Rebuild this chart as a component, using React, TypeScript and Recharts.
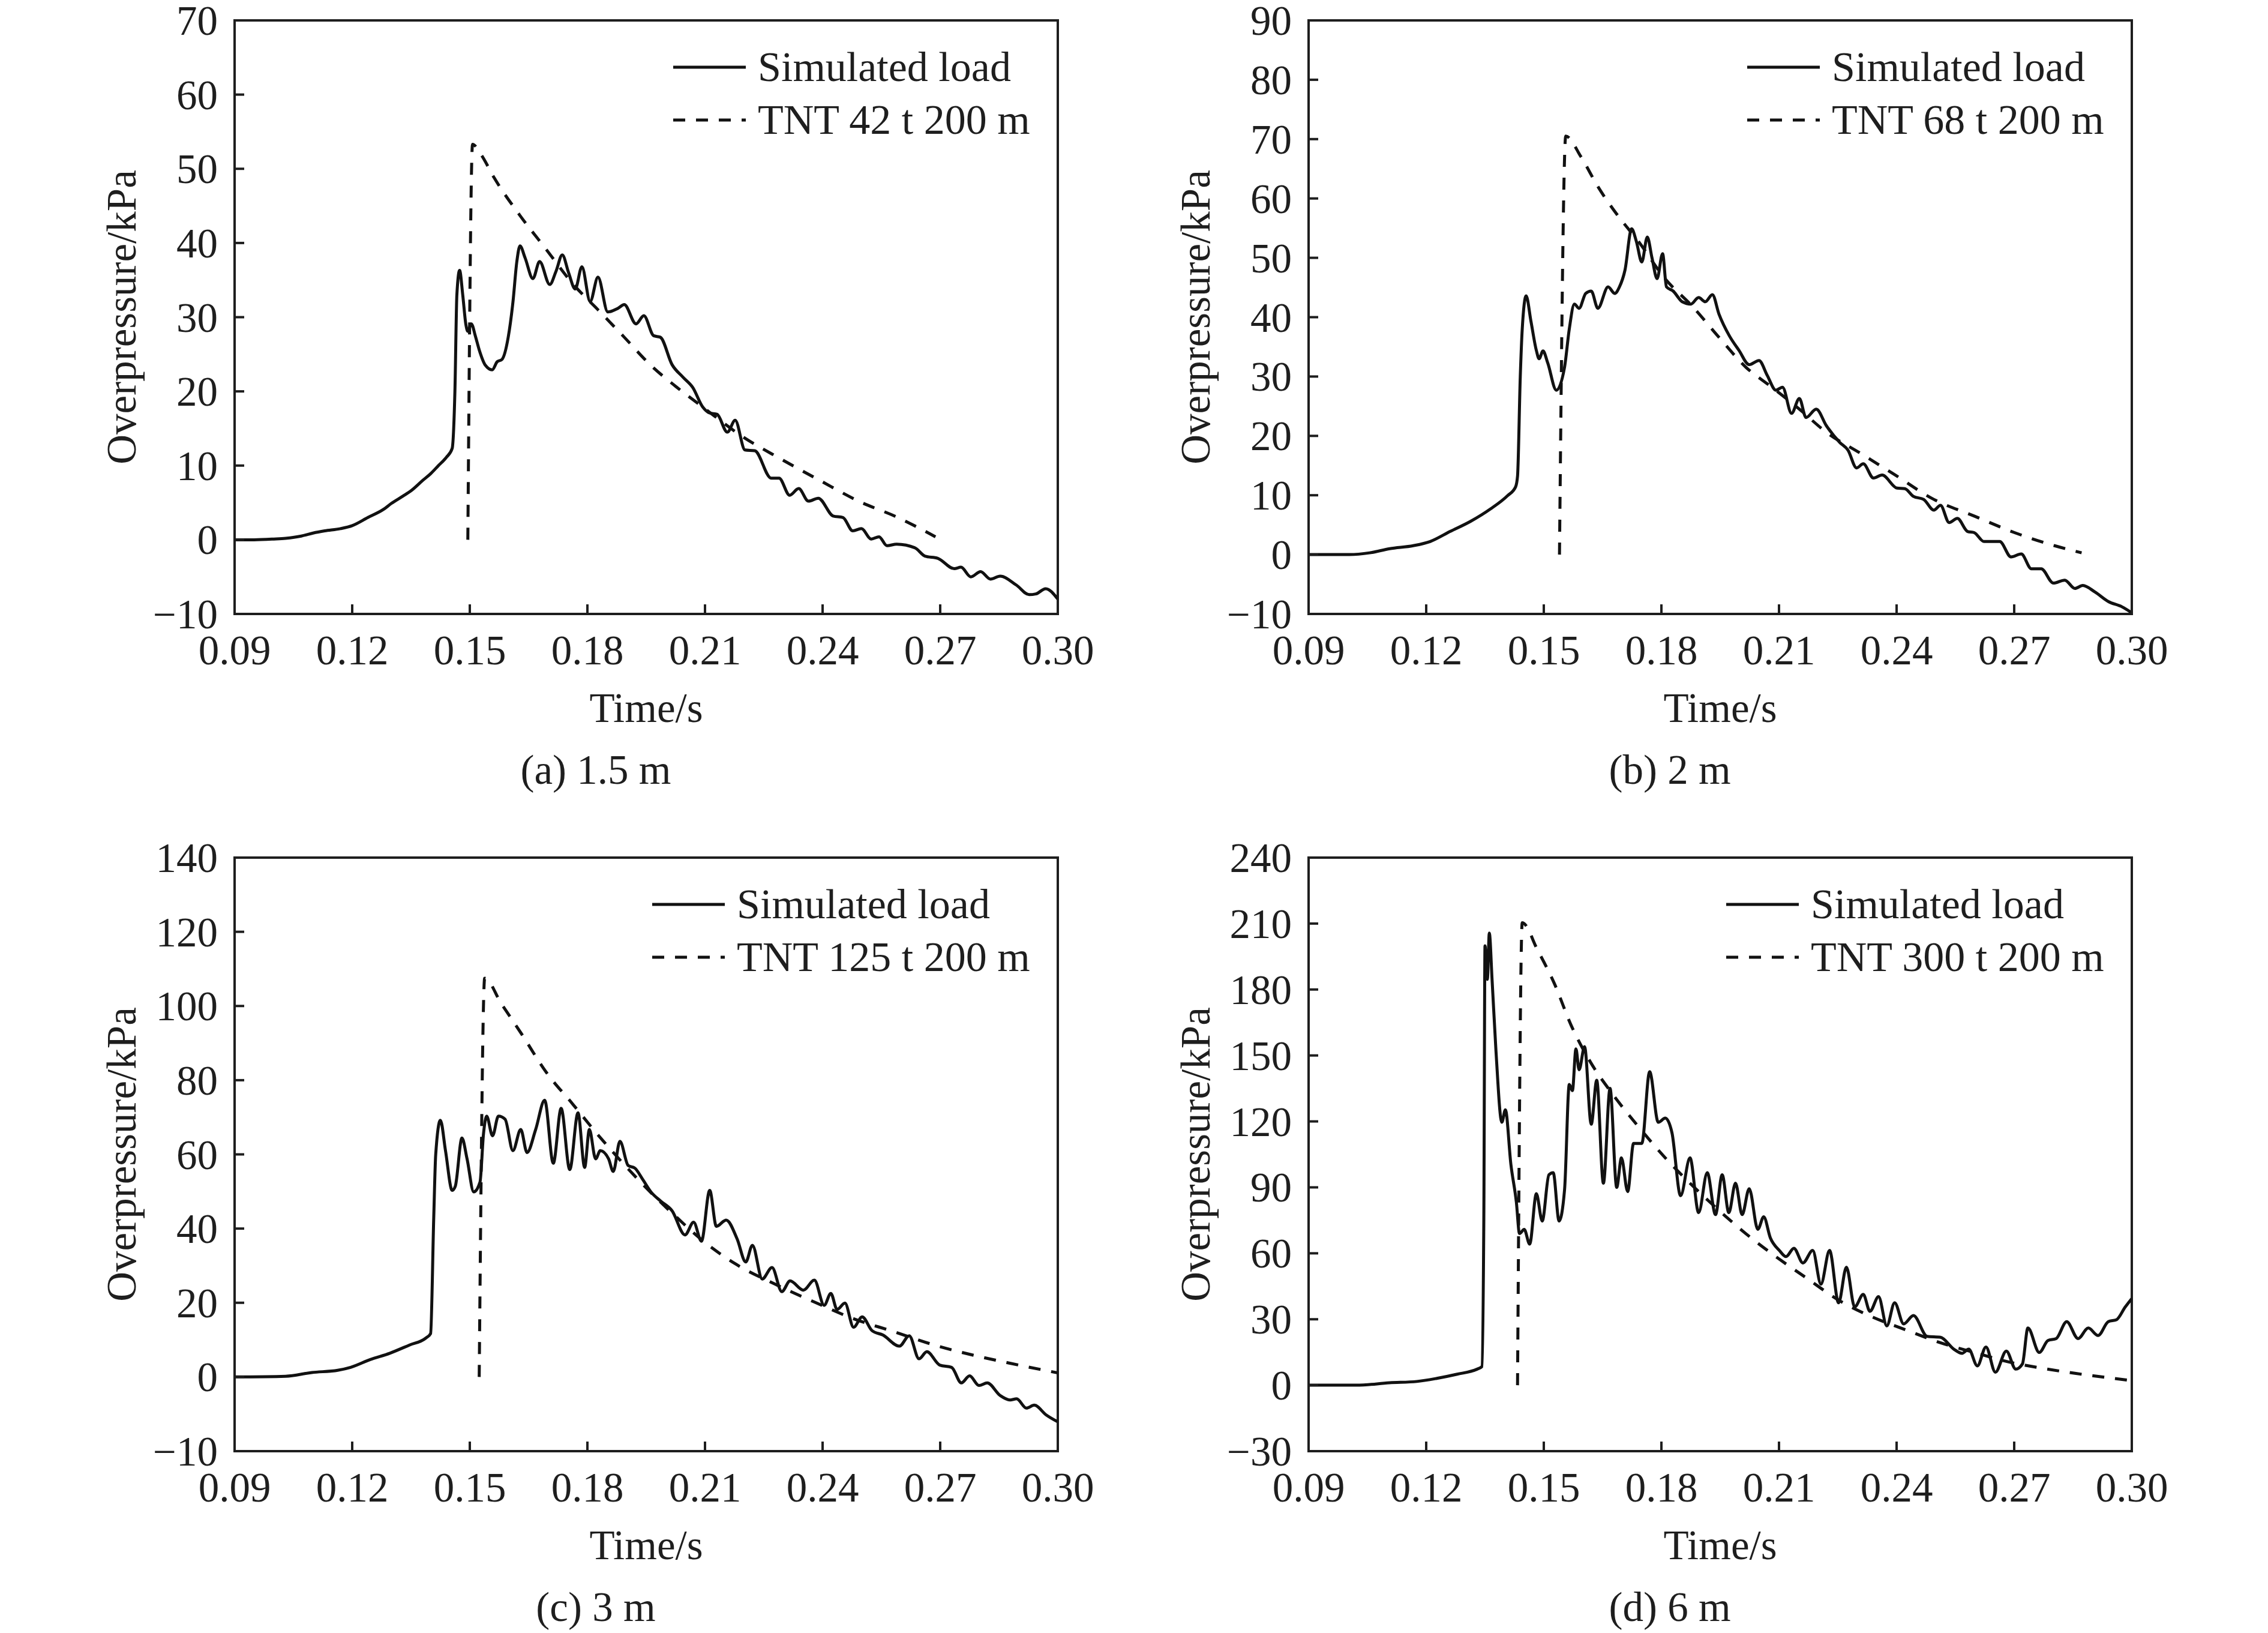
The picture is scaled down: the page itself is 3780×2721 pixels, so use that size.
import { LineChart, Line, XAxis, YAxis, Legend, ReferenceArea } from "recharts"

type Pt = [number, number]

// time axis shared by all four panels
const xTicks = [0.09, 0.12, 0.15, 0.18, 0.21, 0.24, 0.27, 0.3]
const xTickLabels = ["0.09", "0.12", "0.15", "0.18", "0.21", "0.24", "0.27", "0.30"]

// (a) 1.5 m
const simA: Pt[] = [
  [0.09, 0], [0.095, 0], [0.1, 0.1], [0.103, 0.2], [0.107, 0.5], [0.11, 0.9], [0.113, 1.2], [0.117, 1.5],
  [0.12, 1.9], [0.124, 3.0], [0.128, 4.1], [0.13, 4.9], [0.133, 5.9], [0.135, 6.6], [0.138, 8.0], [0.14, 8.9],
  [0.142, 10.0], [0.144, 11.1], [0.1455, 12.3], [0.1462, 20], [0.1467, 33], [0.1474, 36.3], [0.1482, 33],
  [0.149, 29], [0.1495, 28.1], [0.1504, 29.1], [0.1514, 27.5], [0.1524, 25.6], [0.154, 23.5], [0.1557, 22.9],
  [0.157, 24], [0.1582, 24.3], [0.1598, 27.3], [0.161, 32], [0.162, 37.5], [0.1628, 39.6], [0.1641, 38.0],
  [0.1661, 35.2], [0.1678, 37.5], [0.1704, 34.4], [0.172, 36.2], [0.1736, 38.4], [0.1752, 36], [0.1769, 33.8],
  [0.1786, 36.8], [0.1807, 32.1], [0.1827, 35.4], [0.1852, 30.7], [0.1878, 31.2], [0.1894, 31.7], [0.1924, 29.1],
  [0.1944, 30.2], [0.1969, 27.5], [0.1986, 27.3], [0.2016, 23.6], [0.2044, 21.9], [0.2069, 20.5], [0.2094, 17.9],
  [0.2111, 17.1], [0.2131, 16.9], [0.2157, 14.5], [0.2177, 16.1], [0.2202, 12.1], [0.2227, 12.0], [0.2269, 8.3],
  [0.2289, 8.3], [0.2316, 6.0], [0.2339, 6.9], [0.2364, 5.2], [0.2389, 5.6], [0.2427, 3.2], [0.2452, 3.0],
  [0.2477, 1.2], [0.2499, 1.5], [0.2524, 0.1], [0.2544, 0.4], [0.2564, -0.8], [0.2589, -0.6], [0.2636, -1.1],
  [0.2661, -2.2], [0.2694, -2.5], [0.2736, -3.9], [0.2753, -3.7], [0.2778, -5.0], [0.2803, -4.3], [0.2828, -5.3],
  [0.2853, -4.9], [0.2894, -6.1], [0.2927, -7.4], [0.2944, -7.3], [0.2969, -6.6], [0.3, -8.0],
]
const tntA: Pt[] = [
  [0.1495, 0], [0.1507, 53.3], [0.1529, 51.9], [0.1562, 48.8], [0.1628, 43.7], [0.1694, 39.2], [0.1761, 34.6],
  [0.1827, 31.0], [0.1894, 27.3], [0.196, 23.6], [0.2027, 20.6], [0.2094, 17.9], [0.2193, 14.0], [0.2293, 10.9],
  [0.2393, 8.0], [0.2492, 5.2], [0.2592, 3.0], [0.2688, 0.4],
]
const yTicksA = [-10, 0, 10, 20, 30, 40, 50, 60, 70]
const yLabelsA = ["\u221210", "0", "10", "20", "30", "40", "50", "60", "70"]

// (b) 2 m
const simB: Pt[] = [
  [0.09, 0], [0.1004, 0], [0.1056, 0.3], [0.1107, 1.0], [0.1167, 1.5], [0.121, 2.2], [0.1261, 3.9], [0.1313, 5.6],
  [0.1364, 7.7], [0.1407, 9.9], [0.1428, 11.4], [0.1433, 13.2], [0.144, 30], [0.1445, 38], [0.1455, 43.6],
  [0.1467, 39.4], [0.1481, 34.4], [0.1488, 33], [0.1498, 34.3], [0.151, 32.3], [0.1532, 27.7], [0.1553, 31.6],
  [0.1565, 38], [0.1578, 42.2], [0.159, 41.5], [0.1607, 44], [0.1621, 44.4], [0.1638, 41.5], [0.1664, 45.1],
  [0.1681, 44], [0.1693, 45.1], [0.1707, 47.9], [0.1724, 54.9], [0.1736, 52.8], [0.175, 49.3], [0.1764, 53.5],
  [0.1776, 50.0], [0.1789, 46.5], [0.1803, 50.7], [0.1813, 45.1], [0.183, 44.4], [0.1853, 42.6], [0.1875, 42.2],
  [0.1895, 43.3], [0.1912, 42.6], [0.193, 43.8], [0.1947, 40.5], [0.1973, 36.9], [0.1998, 34.4], [0.2024, 32.0],
  [0.2049, 32.7], [0.207, 30.2], [0.2092, 27.7], [0.2109, 28.2], [0.2132, 23.8], [0.2152, 26.3], [0.2169, 23.1],
  [0.2195, 24.5], [0.2221, 21.7], [0.2255, 18.9], [0.2276, 17.6], [0.2298, 14.6], [0.2315, 15.3], [0.2341, 12.9],
  [0.2363, 13.4], [0.2401, 11.2], [0.2421, 11.1], [0.2443, 9.8], [0.2469, 9.3], [0.2495, 7.5], [0.2512, 8.3],
  [0.2534, 5.4], [0.2555, 6.1], [0.2581, 3.9], [0.2598, 3.7], [0.2623, 2.2], [0.2663, 2.2], [0.2692, -0.4],
  [0.2718, 0.1], [0.2744, -2.4], [0.2769, -2.4], [0.28, -4.8], [0.2829, -4.3], [0.2855, -5.7], [0.2875, -5.2],
  [0.2906, -6.3], [0.294, -7.9], [0.2975, -8.8], [0.3, -9.8],
]
const tntB: Pt[] = [
  [0.154, 0], [0.1556, 70.5], [0.1595, 67], [0.1638, 62], [0.1689, 57.1], [0.1741, 52.8], [0.1809, 46.5],
  [0.1878, 41.9], [0.1947, 36.6], [0.2015, 31.6], [0.2084, 28.1], [0.2152, 24.5], [0.2221, 20.6], [0.2307, 17.1],
  [0.2392, 13.6], [0.2495, 9.3], [0.2598, 6.5], [0.2701, 3.7], [0.2803, 1.5], [0.2872, 0.3],
]
const yTicksB = [-10, 0, 10, 20, 30, 40, 50, 60, 70, 80, 90]
const yLabelsB = ["\u221210", "0", "10", "20", "30", "40", "50", "60", "70", "80", "90"]

// (c) 3 m
const simC: Pt[] = [
  [0.09, 0], [0.103, 0.2], [0.1097, 1.2], [0.1163, 1.8], [0.1196, 2.6], [0.1246, 4.7], [0.1296, 6.4], [0.1346, 8.6],
  [0.1388, 10.5], [0.14, 11.7], [0.1408, 42.9], [0.1413, 59.9], [0.1425, 69.2], [0.1438, 61], [0.1455, 50.3],
  [0.1463, 51.4], [0.148, 64.4], [0.1493, 58.8], [0.151, 49.9], [0.1526, 52.5], [0.1535, 65.6], [0.1543, 70.3],
  [0.1558, 65], [0.1573, 70.3], [0.159, 69.5], [0.161, 61], [0.163, 66.7], [0.1646, 60.5], [0.1668, 66.7],
  [0.1691, 74.6], [0.1713, 57.6], [0.1733, 72.4], [0.1755, 55.9], [0.1776, 71.2], [0.1793, 56.5], [0.1805, 66.7],
  [0.1821, 58.8], [0.1833, 61], [0.1854, 58.8], [0.1866, 55.4], [0.1883, 63.5], [0.1904, 57], [0.1921, 56.3],
  [0.1942, 53.1], [0.1962, 49.9], [0.1987, 47.4], [0.2016, 44.8], [0.2049, 38.3], [0.2071, 41.7], [0.2091, 36.6],
  [0.2112, 50.3], [0.2129, 40.6], [0.2154, 42.3], [0.2182, 37.2], [0.2204, 31], [0.2221, 35.5], [0.2246, 26.4],
  [0.2271, 29.5], [0.2296, 23], [0.2317, 25.9], [0.2351, 23.4], [0.2379, 26.1], [0.2404, 19.3], [0.2421, 22.5],
  [0.2437, 18.2], [0.2457, 19.9], [0.2479, 13.4], [0.2501, 16.2], [0.2526, 12.5], [0.2554, 11.3], [0.2596, 8.3],
  [0.2621, 11.1], [0.2646, 4.9], [0.2666, 6.8], [0.2699, 3.2], [0.2729, 2.6], [0.2754, -1.6], [0.2775, 0.3],
  [0.2799, -2.3], [0.282, -1.6], [0.2853, -5], [0.2878, -6.2], [0.2895, -5.9], [0.292, -8.4], [0.294, -7.6],
  [0.297, -10.2], [0.3, -12.1],
]
const tntC: Pt[] = [
  [0.1524, 0], [0.1538, 107.5], [0.158, 100.7], [0.163, 92.8], [0.1696, 82], [0.1763, 73.5], [0.1829, 65],
  [0.1896, 57], [0.1962, 49.7], [0.2029, 42.9], [0.2096, 36.6], [0.2179, 30.4], [0.2279, 25], [0.2379, 20.2],
  [0.2479, 15.7], [0.2579, 12.3], [0.2679, 8.8], [0.2779, 6], [0.2878, 3.7], [0.3, 1.1],
]
// bottom tick of (c) sits one full step (20) below zero but is printed as −10 in the figure
const yTicksC = [-20, 0, 20, 40, 60, 80, 100, 120, 140]
const yLabelsC = ["\u221210", "0", "20", "40", "60", "80", "100", "120", "140"]

// (d) 6 m
const simD: Pt[] = [
  [0.09, 0], [0.1022, 0], [0.1107, 1.1], [0.1176, 1.7], [0.1227, 3.1], [0.1279, 5], [0.133, 7.3], [0.1342, 8.4],
  [0.1347, 75.7], [0.135, 199.9], [0.1356, 184.6], [0.1361, 205.7], [0.1368, 184.6], [0.1378, 152], [0.1393, 119.6],
  [0.1402, 125.3], [0.1416, 100.5], [0.143, 83.3], [0.1438, 69], [0.145, 70.9], [0.1464, 64.2], [0.1481, 87.1],
  [0.1496, 74.7], [0.1513, 95.7], [0.1524, 96.7], [0.1539, 74.7], [0.1553, 89], [0.1565, 136.8], [0.1573, 134],
  [0.1582, 153], [0.159, 143.5], [0.1604, 154], [0.1621, 118.7], [0.1635, 138.7], [0.1652, 91.9], [0.1669, 135],
  [0.1686, 90], [0.1698, 103.4], [0.1714, 88.1], [0.1729, 110], [0.175, 110], [0.177, 142.6], [0.1792, 119.6],
  [0.181, 121.5], [0.1827, 114.8], [0.1849, 86.2], [0.1873, 103.4], [0.1895, 78.5], [0.1917, 96.7], [0.1938, 77.6],
  [0.1955, 95.7], [0.1972, 78.5], [0.1989, 91.9], [0.2006, 77.6], [0.2024, 89.4], [0.2046, 70.9], [0.2061, 76.6],
  [0.2078, 67], [0.2101, 61.3], [0.2118, 58.5], [0.2138, 62.3], [0.2161, 55.6], [0.2186, 61.3], [0.2207, 46],
  [0.2229, 61.3], [0.2252, 37.5], [0.2272, 53.7], [0.2293, 35.6], [0.2315, 41.3], [0.2332, 33.6], [0.2354, 40.3],
  [0.2375, 27], [0.2395, 37.5], [0.2418, 27.9], [0.2443, 31.7], [0.2478, 22.2], [0.2512, 21.8], [0.2546, 16.4],
  [0.2567, 14.5], [0.2584, 16.4], [0.2606, 8.8], [0.2628, 17.4], [0.2652, 5.9], [0.268, 15.5], [0.2704, 7.3],
  [0.2721, 9.7], [0.2735, 26], [0.2764, 14.9], [0.2786, 20.3], [0.2807, 21.2], [0.2834, 28.9], [0.2863, 21.2],
  [0.2889, 26], [0.2914, 22.6], [0.294, 28.9], [0.2961, 29.8], [0.2983, 35.5], [0.3, 39.4],
]
const tntD: Pt[] = [
  [0.1433, 0], [0.1445, 210.4], [0.1484, 198], [0.1527, 182.7], [0.157, 163.6], [0.1621, 146.4], [0.1673, 133],
  [0.1741, 117.7], [0.181, 103.4], [0.1878, 91], [0.1947, 79.5], [0.2015, 69], [0.2084, 59.5], [0.2169, 48.9],
  [0.2255, 38.4], [0.2341, 30.8], [0.2426, 25], [0.2512, 19.3], [0.2598, 14.9], [0.2683, 10.7], [0.2769, 7.8],
  [0.2855, 5.4], [0.294, 3.4], [0.3, 2.1],
]
const yTicksD = [-30, 0, 30, 60, 90, 120, 150, 180, 210, 240]
const yLabelsD = ["\u221230", "0", "30", "60", "90", "120", "150", "180", "210", "240"]

const simName = "Simulated load"
const tntNames = ["TNT 42 t 200 m", "TNT 68 t 200 m", "TNT 125 t 200 m", "TNT 300 t 200 m"]
const captions = ["(a) 1.5 m", "(b) 2 m", "(c) 3 m", "(d) 6 m"]

const FONT = '"Liberation Serif", "Times New Roman", Times, serif'
const INK = "#1e1e1e"
const LINE_INK = "#111"
const FS = 69
const LEGEND_FS = 70
const DASH = "20 18"

// layout of one panel (px, relative to the panel's own box); the headroom above
// the plot keeps the top tick label inside the panel's svg
const CHART_W = 1880
const CHART_H = 1360
const PLOT_L = 391
const PLOT_T = 70
const PLOT_W = 1372
const PLOT_H = 989
const Y_AXIS_W = 378
const X_AXIS_H = 180

interface PanelProps {
  left: number
  top: number
  sim: Pt[]
  tnt: Pt[]
  tntName: string
  yTicks: number[]
  yLabels: string[]
  caption: string
  legendTextOffset: number
}

const Panel = ({ left, top, sim, tnt, tntName, yTicks, yLabels, caption, legendTextOffset }: PanelProps) => {
  const simData = sim.map(([t, p]) => ({ t, p }))
  const tntData = tnt.map(([t, p]) => ({ t, p }))
  const yMin = yTicks[0]
  const yMax = yTicks[yTicks.length - 1]

  const xTick = (props: any) => {
    const { x, y, payload } = props
    const i = xTicks.indexOf(payload.value)
    return (
      <g>
        <line x1={x} x2={x} y1={y} y2={y - 16} stroke={INK} strokeWidth={4} />
        <text x={x} y={y + 84} textAnchor="middle" fill={INK} fontSize={FS} fontFamily={FONT}>
          {i >= 0 ? xTickLabels[i] : Number(payload.value).toFixed(2)}
        </text>
      </g>
    )
  }

  const yTick = (props: any) => {
    const { x, y, payload } = props
    const i = yTicks.indexOf(payload.value)
    return (
      <g>
        <line x1={x} x2={x + 16} y1={y} y2={y} stroke={INK} strokeWidth={4} />
        <text x={x - 28} y={y + 24} textAnchor="end" fill={INK} fontSize={FS} fontFamily={FONT}>
          {i >= 0 ? yLabels[i] : String(payload.value)}
        </text>
      </g>
    )
  }

  const legendRow = (label: string, dash?: string) => (
    <div style={{ display: "flex", alignItems: "center", height: 88 }}>
      <svg width={121} height={10} style={{ display: "block" }}>
        <line x1={0} x2={121} y1={5} y2={5} stroke={LINE_INK} strokeWidth={5} strokeDasharray={dash} />
      </svg>
      <span style={{ marginLeft: 20, fontSize: LEGEND_FS, lineHeight: "88px", fontFamily: FONT, color: INK, whiteSpace: "nowrap" }}>
        {label}
      </span>
    </div>
  )

  return (
    <div style={{ position: "absolute", left, top, width: CHART_W, height: CHART_H }}>
      <LineChart
        width={CHART_W}
        height={CHART_H}
        style={{ overflow: "visible" }}
        margin={{
          top: PLOT_T,
          right: CHART_W - PLOT_L - PLOT_W,
          left: PLOT_L - Y_AXIS_W,
          bottom: CHART_H - PLOT_T - PLOT_H - X_AXIS_H,
        }}
      >
        <XAxis
          type="number"
          dataKey="t"
          domain={[0.09, 0.3]}
          ticks={xTicks}
          interval={0}
          allowDataOverflow
          axisLine={false}
          tickLine={false}
          tickSize={0}
          tickMargin={0}
          height={X_AXIS_H}
          tick={xTick}
          label={{ value: "Time/s", position: "insideBottom", offset: 0, style: { fontSize: FS, fontFamily: FONT, fill: INK } }}
        />
        <YAxis
          type="number"
          domain={[yMin, yMax]}
          ticks={yTicks}
          interval={0}
          allowDataOverflow
          axisLine={false}
          tickLine={false}
          tickSize={0}
          tickMargin={0}
          width={Y_AXIS_W}
          tick={yTick}
          label={{ value: "Overpressure/kPa", angle: -90, position: "center", style: { fontSize: FS, fontFamily: FONT, fill: INK } }}
        />
        {/* plot frame */}
        <ReferenceArea x1={0.09} x2={0.3} y1={yMin} y2={yMax} fill="none" fillOpacity={0} stroke={INK} strokeWidth={4} ifOverflow="visible" />
        <Legend
          layout="vertical"
          align="center"
          verticalAlign="middle"
          wrapperStyle={{ left: PLOT_L + PLOT_W - legendTextOffset - 141, top: PLOT_T + 34, width: 760 }}
          content={() => (
            <div>
              {legendRow(simName)}
              {legendRow(tntName, DASH)}
            </div>
          )}
        />
        <Line
          data={simData}
          dataKey="p"
          name={simName}
          type="monotone"
          stroke={LINE_INK}
          strokeWidth={5}
          strokeLinejoin="round"
          dot={false}
          activeDot={false}
          isAnimationActive={false}
        />
        <Line
          data={tntData}
          dataKey="p"
          name={tntName}
          type="monotone"
          stroke={LINE_INK}
          strokeWidth={5}
          strokeDasharray={DASH}
          dot={false}
          activeDot={false}
          isAnimationActive={false}
        />
      </LineChart>
      <div
        style={{
          position: "absolute",
          left: PLOT_L + 602 - 500,
          width: 1000,
          top: PLOT_T + PLOT_H + 284 - 58,
          textAlign: "center",
          fontSize: FS,
          lineHeight: 1,
          fontFamily: FONT,
          color: INK,
          whiteSpace: "nowrap",
        }}
      >
        {caption}
      </div>
    </div>
  )
}

export default function App() {
  return (
    <div style={{ position: "absolute", left: 0, top: 0, width: 3780, height: 2721, background: "#fff", overflow: "hidden" }}>
      <Panel left={0} top={-36} sim={simA} tnt={tntA} tntName={tntNames[0]} yTicks={yTicksA} yLabels={yLabelsA} caption={captions[0]} legendTextOffset={500} />
      <Panel left={1790} top={-36} sim={simB} tnt={tntB} tntName={tntNames[1]} yTicks={yTicksB} yLabels={yLabelsB} caption={captions[1]} legendTextOffset={500} />
      <Panel left={0} top={1359} sim={simC} tnt={tntC} tntName={tntNames[2]} yTicks={yTicksC} yLabels={yLabelsC} caption={captions[2]} legendTextOffset={535} />
      <Panel left={1790} top={1359} sim={simD} tnt={tntD} tntName={tntNames[3]} yTicks={yTicksD} yLabels={yLabelsD} caption={captions[3]} legendTextOffset={535} />
    </div>
  )
}
